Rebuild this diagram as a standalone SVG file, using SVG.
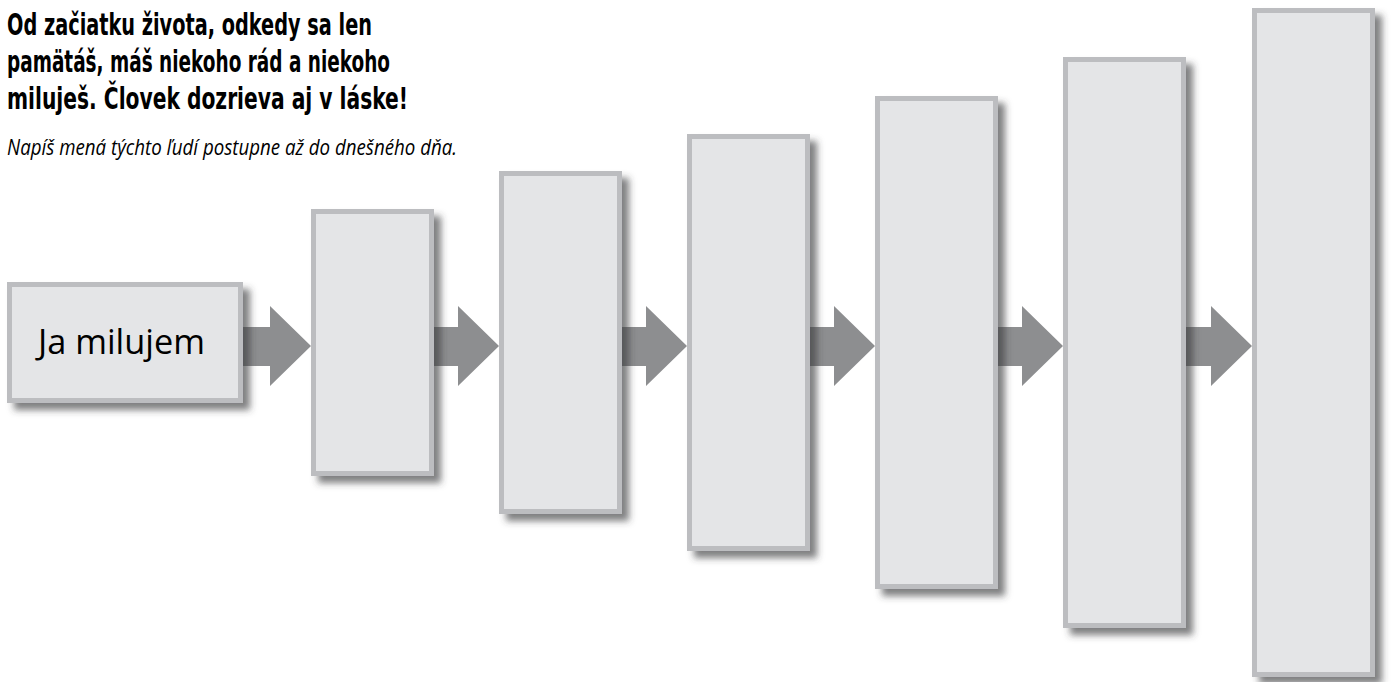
<svg xmlns="http://www.w3.org/2000/svg" width="1392" height="682" viewBox="0 0 1392 682">
<style>
.box{fill:#e4e5e7;stroke:#bcbdc0;stroke-width:5;filter:url(#sh)}
.arrow{fill:#8d8e90}
.title{font-family:"DejaVu Sans Condensed","DejaVu Sans","Liberation Sans",sans-serif;font-weight:bold;font-size:30px;fill:#000}
.sub{font-family:"Open Sans","Liberation Sans",sans-serif;font-style:italic;font-size:22px;fill:#000}
.lbl{font-family:"Open Sans","Liberation Sans",sans-serif;font-size:34px;fill:#000}
</style>
<defs>
<filter id="sh" x="-15%" y="-10%" width="140%" height="130%">
<feGaussianBlur in="SourceAlpha" stdDeviation="3.5"/>
<feOffset dx="7" dy="7" result="b"/>
<feFlood flood-color="#3a3b3d" flood-opacity="0.65"/>
<feComposite in2="b" operator="in" result="s"/>
<feMerge><feMergeNode in="s"/><feMergeNode in="SourceGraphic"/></feMerge>
</filter>
</defs>
<rect width="1392" height="682" fill="#fff"/>
<g id="title">
<text class="title" x="7" y="35" textLength="365" lengthAdjust="spacingAndGlyphs">Od začiatku života, odkedy sa len</text>
<text class="title" x="7" y="72" textLength="383" lengthAdjust="spacingAndGlyphs">pamätáš, máš niekoho rád a niekoho</text>
<text class="title" x="7" y="109" textLength="401" lengthAdjust="spacingAndGlyphs">miluješ. Človek dozrieva aj v láske!</text>
<text class="sub" x="7" y="155" textLength="450" lengthAdjust="spacingAndGlyphs">Napíš mená týchto ľudí postupne až do dnešného dňa.</text>
</g>
<g id="connectors">
<path class="arrow" d="M243 327H270V306L311 346L270 386V366H243Z"/>
<path class="arrow" d="M434 327H458V306L499 346L458 386V366H434Z"/>
<path class="arrow" d="M622 327H646V306L687 346L646 386V366H622Z"/>
<path class="arrow" d="M810 327H834V306L875 346L834 386V366H810Z"/>
<path class="arrow" d="M998 327H1022V306L1063 346L1022 386V366H998Z"/>
<path class="arrow" d="M1186 327H1211V306L1252 346L1211 386V366H1186Z"/>
</g>
<g id="node1">
<rect class="box" x="9.5" y="284.5" width="231" height="116"/>
<text class="lbl" x="38" y="354" textLength="167" lengthAdjust="spacingAndGlyphs">Ja milujem</text>
</g>
<g id="node2"><rect class="box" x="313.5" y="211.5" width="118" height="262"/></g>
<g id="node3"><rect class="box" x="501.5" y="173.5" width="118" height="338"/></g>
<g id="node4"><rect class="box" x="689.5" y="136.5" width="118" height="412"/></g>
<g id="node5"><rect class="box" x="877.5" y="98.5" width="118" height="488"/></g>
<g id="node6"><rect class="box" x="1065.5" y="59.5" width="118" height="566"/></g>
<g id="node7"><rect class="box" x="1254.5" y="10.5" width="118" height="664"/></g>
</svg>
